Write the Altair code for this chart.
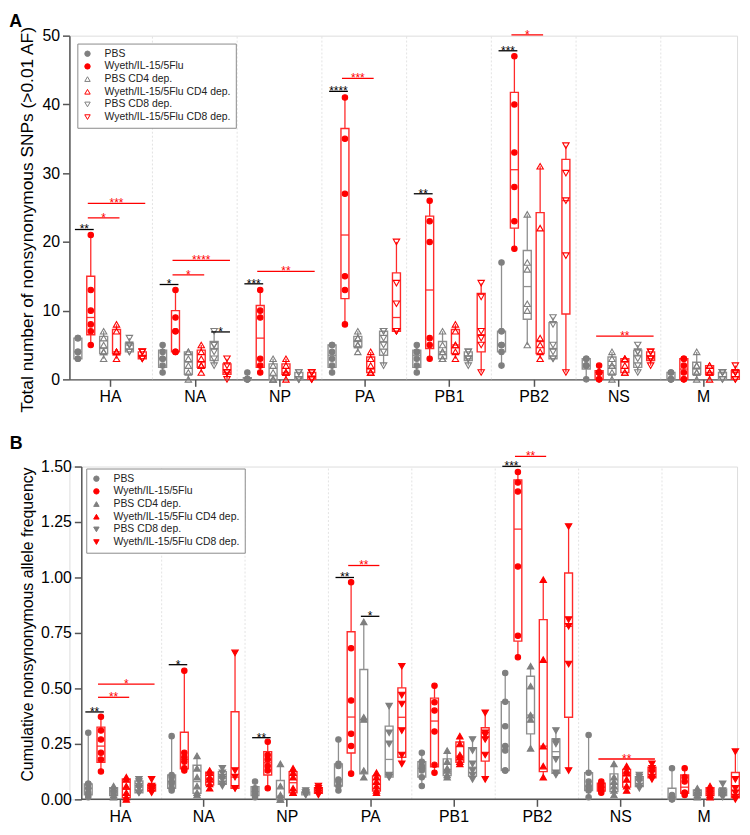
import json
import numpy as np
import pandas as pd
import altair as alt

GENES = ["HA", "NA", "NP", "PA", "PB1", "PB2", "NS", "M"]
GROUPS = ["PBS", "Wyeth/IL-15/5Flu", "PBS CD4 dep.", "Wyeth/IL-15/5Flu CD4 dep.",
          "PBS CD8 dep.", "Wyeth/IL-15/5Flu CD8 dep."]

# ---------- Panel A: total number of nonsynonymous SNPs (>0.01 AF) ----------
A_HA = [[3, 3, 4, 4, 6, 6], [5, 7, 8, 10, 13, 21], [3, 4, 4, 5, 6, 7], [3, 4, 4, 4, 7, 8], [4, 4, 5, 5, 5, 6], [3, 3, 3, 4, 4, 4]]
A_NA = [[1, 2, 3, 3, 4, 5], [4, 4, 7, 7, 9, 13], [0, 1, 2, 3, 4, 4], [1, 2, 2, 3, 4, 5], [2, 3, 4, 5, 5, 7], [0, 1, 1, 1, 2, 3]]
A_NP = [[0, 0, 0, 0, 0, 1], [1, 2, 3, 9, 10, 13], [0, 0, 0, 1, 2, 3], [0, 1, 1, 1, 2, 3], [0, 0, 0, 0, 1, 1], [0, 0, 0, 1, 1, 1]]
A_PA = [[1, 2, 3, 4, 5, 5], [8, 13, 15, 27, 35, 41], [4, 5, 5, 6, 6, 7], [1, 1, 1, 2, 3, 4], [2, 4, 5, 6, 7, 7], [7, 7, 7, 11, 14, 20]]
A_PB1 = [[1, 2, 3, 4, 4, 5], [3, 5, 6, 20, 23, 26], [3, 3, 4, 4, 5, 7], [3, 4, 5, 5, 7, 8], [2, 3, 3, 3, 4, 4], [1, 5, 6, 7, 12, 14]]
A_PB2 = [[2, 4, 5, 5, 7, 7, 17], [19, 23, 28, 33, 40, 47], [5, 10, 11, 16, 17, 24], [3, 4, 5, 6, 22, 31], [3, 3, 4, 5, 8, 9], [1, 18, 26, 30, 34]]
A_NS = [[0, 2, 2, 2, 3, 3], [0, 0, 1, 1, 1, 2], [0, 1, 2, 2, 3, 4], [1, 1, 2, 3, 3, 3], [1, 2, 3, 4, 4, 5], [2, 3, 3, 3, 4, 4]]
A_M = [[0, 0, 0, 0, 1, 1], [0, 0, 1, 2, 3, 3], [0, 1, 1, 2, 2, 4], [0, 1, 1, 1, 2, 2], [0, 0, 1, 1, 1, 1], [0, 0, 1, 1, 1, 2]]

# significance bars: gene, from group, to group, height, label, colour
A_SIG = [
    ("HA", 0, 1, 21.8, "**", "black"), ("HA", 1, 3, 23.5, "*", "red"), ("HA", 1, 5, 25.6, "***", "red"),
    ("NA", 0, 1, 13.8, "*", "black"), ("NA", 1, 3, 15.2, "*", "red"), ("NA", 1, 5, 17.3, "****", "red"),
    ("NA", 4, 5, 6.9, "*", "black"),
    ("NP", 0, 1, 13.9, "***", "black"), ("NP", 1, 5, 15.7, "**", "red"),
    ("PA", 0, 1, 41.9, "****", "black"), ("PA", 1, 3, 43.8, "***", "red"),
    ("PB1", 0, 1, 27.0, "**", "black"),
    ("PB2", 0, 1, 47.8, "***", "black"), ("PB2", 1, 3, 50.1, "*", "red"),
    ("NS", 1, 5, 6.3, "**", "red"),
]

# ---------- Panel B: cumulative nonsynonymous allele frequency ----------
B_HA = [[0.01, 0.02, 0.03, 0.05, 0.07, 0.07, 0.30], [0.126, 0.18, 0.21, 0.27, 0.31, 0.372], [0.01, 0.02, 0.03, 0.04, 0.05, 0.06],
        [0.0, 0.01, 0.03, 0.06, 0.09, 0.10], [0.03, 0.03, 0.05, 0.06, 0.08, 0.09], [0.03, 0.04, 0.05, 0.05, 0.06, 0.09]]
B_NA = [[0.04, 0.05, 0.07, 0.08, 0.10, 0.11, 0.285], [0.13, 0.14, 0.17, 0.19, 0.21, 0.58], [0.02, 0.03, 0.06, 0.10, 0.14, 0.196],
        [0.05, 0.07, 0.09, 0.10, 0.12, 0.13], [0.06, 0.07, 0.09, 0.10, 0.12, 0.14], [0.05, 0.05, 0.10, 0.13, 0.66]]
B_NP = [[0.01, 0.02, 0.03, 0.04, 0.05, 0.08], [0.05, 0.13, 0.15, 0.18, 0.20, 0.26], [0.0, 0.0, 0.01, 0.02, 0.06, 0.16],
        [0.03, 0.03, 0.05, 0.10, 0.12, 0.14], [0.02, 0.02, 0.03, 0.03, 0.03, 0.04], [0.02, 0.03, 0.04, 0.04, 0.05, 0.06]]
B_PA = [[0.04, 0.06, 0.08, 0.09, 0.15, 0.16, 0.27], [0.116, 0.24, 0.296, 0.446, 0.681, 0.979], [0.10, 0.13, 0.36, 0.37, 0.80],
        [0.03, 0.04, 0.06, 0.08, 0.10, 0.12], [0.10, 0.10, 0.11, 0.25, 0.30, 0.42], [0.16, 0.20, 0.31, 0.43, 0.47, 0.60]]
B_PB1 = [[0.06, 0.10, 0.13, 0.14, 0.15, 0.17, 0.21], [0.12, 0.156, 0.306, 0.40, 0.438, 0.512], [0.10, 0.11, 0.13, 0.14, 0.17, 0.22],
         [0.16, 0.17, 0.19, 0.20, 0.25, 0.285], [0.09, 0.11, 0.13, 0.16, 0.22, 0.27], [0.09, 0.20, 0.27, 0.29, 0.30, 0.39]]
B_PB2 = [[0.13, 0.13, 0.22, 0.24, 0.33, 0.44, 0.57], [0.641, 0.737, 1.049, 1.387, 1.428, 1.475], [0.23, 0.36, 0.38, 0.51, 0.60],
         [0.10, 0.15, 0.24, 0.63, 0.99], [0.11, 0.12, 0.18, 0.25, 0.26, 0.31], [0.13, 0.61, 0.78, 0.81, 1.23]]
B_NS = [[0.01, 0.04, 0.05, 0.06, 0.08, 0.12, 0.29], [0.03, 0.04, 0.05, 0.06, 0.07, 0.08], [0.02, 0.04, 0.06, 0.08, 0.10, 0.16],
        [0.04, 0.06, 0.09, 0.12, 0.13, 0.15], [0.05, 0.06, 0.08, 0.09, 0.10, 0.11], [0.09, 0.10, 0.12, 0.13, 0.14, 0.16]]
B_M = [[0.0, 0.0, 0.01, 0.01, 0.02, 0.14], [0.02, 0.03, 0.03, 0.08, 0.10, 0.14], [0.01, 0.02, 0.03, 0.03, 0.04, 0.05],
       [0.01, 0.02, 0.03, 0.04, 0.05, 0.06], [0.01, 0.02, 0.02, 0.03, 0.04, 0.07], [0.0, 0.01, 0.03, 0.05, 0.09, 0.215]]

B_SIG = [
    ("HA", 0, 1, 0.394, "**", "black"), ("HA", 1, 3, 0.46, "**", "red"), ("HA", 1, 5, 0.519, "*", "red"),
    ("NA", 0, 1, 0.607, "*", "black"),
    ("NP", 0, 1, 0.278, "**", "black"),
    ("PA", 0, 1, 1.0, "**", "black"), ("PA", 1, 3, 1.054, "**", "red"), ("PA", 2, 3, 0.825, "*", "black"),
    ("PB2", 0, 1, 1.501, "***", "black"), ("PB2", 1, 3, 1.546, "**", "red"),
    ("NS", 1, 5, 0.182, "**", "red"),
]

A_DATA = [A_HA, A_NA, A_NP, A_PA, A_PB1, A_PB2, A_NS, A_M]
B_DATA = [B_HA, B_NA, B_NP, B_PA, B_PB1, B_PB2, B_NS, B_M]

# ---------- styling ----------
GRAY_PT = "#7f7f7f"
GRAY_BOX = "#8f8f8f"
RED = "#ff0000"
RED_BOX = "#ff2a2a"
AXIS_C = "#555555"
STEP = 0.152     # spacing between groups inside a gene (x units)
HALF = 0.047     # half box width (x units)
SHAPES = ["circle", "circle", "triangle-up", "triangle-up", "triangle-down", "triangle-down"]
STROKES = [GRAY_PT, RED, GRAY_PT, RED, GRAY_PT, RED]
FILLS_OPEN = [GRAY_PT, RED, "transparent", "transparent", "transparent", "transparent"]
FILLS_SOLID = STROKES
FONT = "Liberation Sans"
LABEL_EXPR = json.dumps(GENES) + "[datum.value]"


def offset(k):
    return (k - 2.5) * STEP


def make_frames(data):
    pts, boxes = [], []
    for gi, gene in enumerate(GENES):
        for k, vals in enumerate(data[gi]):
            xc = gi + offset(k)
            for v in vals:
                pts.append(dict(gene=gene, group=GROUPS[k], x=xc, value=v,
                                sz=30 if k < 2 else 42))
            q1, med, q3 = np.percentile(vals, [25, 50, 75], method="weibull")
            boxes.append(dict(gene=gene, group=GROUPS[k], x=xc, xl=xc - HALF, xr=xc + HALF,
                              lo=min(vals), hi=max(vals), q1=q1, med=med, q3=q3,
                              bc=GRAY_BOX if k % 2 == 0 else RED_BOX))
    return pd.DataFrame(pts), pd.DataFrame(boxes)


def make_sig(sig):
    rows = []
    for gene, g1, g2, y, lab, col in sig:
        gi = GENES.index(gene)
        x1 = gi + offset(g1) - 0.035
        x2 = gi + offset(g2) + 0.035
        rows.append(dict(x1=x1, x2=x2, xm=(x1 + x2) / 2, y=y, lab=lab,
                         col="#000000" if col == "black" else RED))
    return pd.DataFrame(rows)


def panel(data, sig, ydom, yvals, yfmt, ytitle, tsize, title_y, width, height, xdom, yoff,
          lx, ly, fills, letter, toff):
    pts, boxes = make_frames(data)
    sg = make_sig(sig)
    xs = alt.Scale(domain=xdom, nice=False, zero=False)
    ys = alt.Scale(domain=ydom, nice=False, zero=True)
    xaxis = alt.Axis(values=list(range(8)), labelExpr=LABEL_EXPR, title=None, grid=False,
                     tickSize=7, labelPadding=2, labelFontSize=16, labelFont=FONT,
                     domain=(yoff == 0), domainColor=AXIS_C, tickColor=AXIS_C, domainWidth=1.5,
                     tickWidth=1.5, labelColor="black")
    yaxis = alt.Axis(values=yvals, format=yfmt, title=ytitle, grid=False, tickSize=7,
                     labelPadding=3, labelFontSize=16, labelFont=FONT, titleFontSize=tsize,
                     titleFont=FONT, titleFontWeight="normal", titlePadding=5, offset=-yoff,
                     titleY=title_y,
                     domainColor=AXIS_C, tickColor=AXIS_C, domainWidth=1.5, tickWidth=1.5,
                     labelColor="black", titleColor="black")
    X = lambda f: alt.X(f + ":Q", scale=xs, axis=xaxis)
    Y = lambda f: alt.Y(f + ":Q", scale=ys, axis=yaxis)

    layers = []
    seps = pd.DataFrame({"x": [i + 0.5 for i in range(7)]})
    layers.append(alt.Chart(seps).mark_rule(color="#dcdcdc", strokeDash=[2, 2], strokeWidth=0.8).encode(
        x=X("x"), y=alt.datum(ydom[0]), y2=alt.datum(ydom[1])))
    if yoff:
        # x-axis baseline starting where the (shifted) y axis sits
        px_per_unit = width / (xdom[1] - xdom[0])
        base_line = pd.DataFrame({"a": [xdom[0] + yoff / px_per_unit], "b": [xdom[1]]})
        layers.append(alt.Chart(base_line).mark_rule(color=AXIS_C, strokeWidth=1.5).encode(
            x=X("a"), x2="b", y=alt.datum(ydom[0])))

    base = alt.Chart(boxes)
    layers.append(base.mark_rule(strokeWidth=1.3).encode(
        x=X("x"), y=Y("lo"), y2="hi", stroke=alt.Stroke("bc:N", scale=None)))
    layers.append(base.mark_rect(fill="white", strokeWidth=1.4).encode(
        x=X("xl"), x2="xr", y=Y("q1"), y2="q3", stroke=alt.Stroke("bc:N", scale=None)))
    layers.append(base.mark_rule(strokeWidth=1.3).encode(
        x=X("xl"), x2="xr", y=Y("med"), stroke=alt.Stroke("bc:N", scale=None)))

    leg = alt.Legend(title=None, orient="none", legendX=lx, legendY=ly, strokeColor="#8a8a8a",
                     padding=5, labelFontSize=10.5, labelFont=FONT, rowPadding=1.8,
                     symbolSize=30, symbolStrokeWidth=1, labelOffset=12, fillColor="white",
                     labelColor="#222222")
    layers.append(alt.Chart(pts).mark_point(strokeWidth=1.1, opacity=1).encode(
        x=X("x"), y=Y("value"),
        shape=alt.Shape("group:N", scale=alt.Scale(domain=GROUPS, range=SHAPES), legend=leg),
        fill=alt.Fill("group:N", scale=alt.Scale(domain=GROUPS, range=fills), legend=leg),
        stroke=alt.Stroke("group:N", scale=alt.Scale(domain=GROUPS, range=STROKES), legend=leg),
        size=alt.Size("sz:Q", scale=None),
    ))

    sbase = alt.Chart(sg)
    layers.append(sbase.mark_rule(strokeWidth=1.3).encode(
        x=X("x1"), x2="x2", y=Y("y"), stroke=alt.Stroke("col:N", scale=None)))
    layers.append(sbase.mark_text(fontSize=12, font=FONT, baseline="alphabetic", dy=4).encode(
        x=X("xm"), y=Y("y"), text="lab:N", fill=alt.Fill("col:N", scale=None)))

    return alt.layer(*layers).properties(
        width=width, height=height,
        title=alt.TitleParams(text=letter, anchor="start", frame="bounds", dx=-10, fontSize=18,
                              font=FONT, fontWeight="bold", offset=toff, color="black"))


A_H = 347
B_H = 336
chartA = panel(A_DATA, A_SIG, [0, 50], [0, 10, 20, 30, 40, 50], "d",
               "Total number of nonsynonymous SNPs (>0.01 AF)", 17.5, A_H / 2 + 12, 674, A_H,
               [-0.48, 7.40], 0, 8, 8, FILLS_OPEN, "A", -5)
chartB = panel(B_DATA, B_SIG, [0, 1.5], [0, 0.25, 0.5, 0.75, 1.0, 1.25, 1.5], ".2f",
               "Cumulative nonsynonymous allele frequency", 16, B_H / 2 - 9, 674, B_H,
               [-0.606, 7.40], 12, 17, 2, FILLS_SOLID, "B", -3)

chart = alt.concat(chartA, chartB, columns=1, spacing=21).resolve_scale(
    fill="independent", stroke="independent", shape="independent").configure_view(
    stroke=None).configure(font=FONT).properties(padding=0)

chart.save("out.html", embed_options={"renderer": "svg", "actions": False})
